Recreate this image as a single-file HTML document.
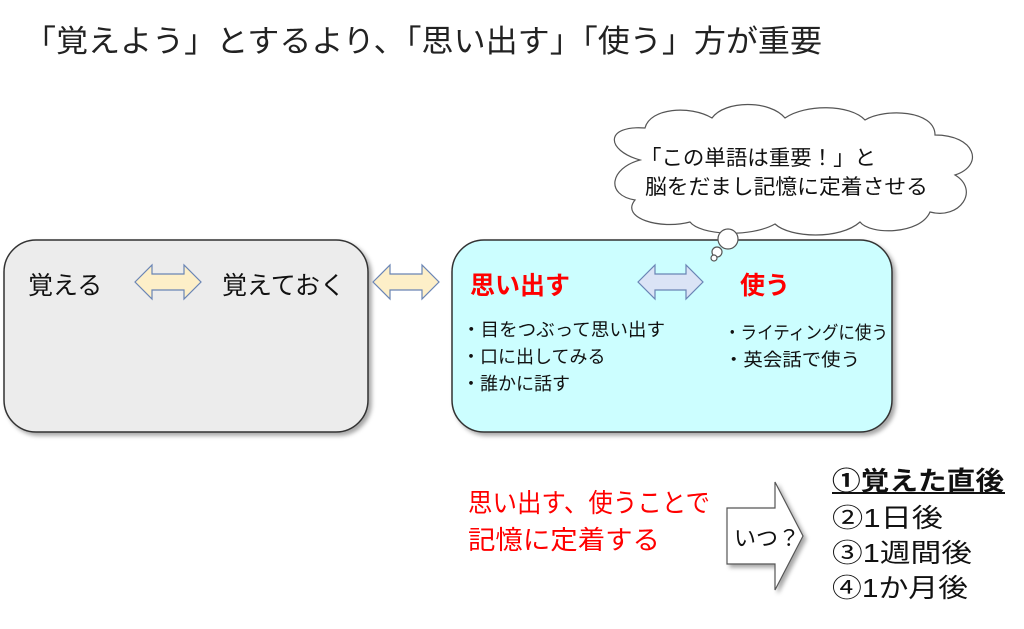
<!DOCTYPE html>
<html><head><meta charset="utf-8"><style>
body{margin:0;background:#fff;width:1024px;height:624px;overflow:hidden}
svg text{font-family:"Liberation Sans","Noto Sans CJK JP",sans-serif}
</style></head><body>
<svg width="1024" height="624" viewBox="0 0 1024 624">
<defs>
<filter id="sh" x="-10%" y="-10%" width="130%" height="130%"><feDropShadow dx="3" dy="3" stdDeviation="2" flood-color="#000" flood-opacity="0.35"/></filter>
</defs>
<text x="24" y="52" font-size="31" fill="#222" textLength="798" lengthAdjust="spacingAndGlyphs">「覚えよう」とするより、「思い出す」「使う」方が重要</text>
<rect x="4" y="240" width="364" height="192" rx="32" fill="#ececec" stroke="#333" stroke-width="1.5" filter="url(#sh)"/>
<rect x="452" y="240" width="440" height="192" rx="32" fill="#ccfeff" stroke="#333" stroke-width="1.5" filter="url(#sh)"/>
<g stroke="#6a85b5" stroke-width="1.2">
<path d="M135,282 L152,265 L152,274 L184,274 L184,265 L201,282 L184,299 L184,290 L152,290 L152,299 Z" fill="#fdefc8"/>
<path d="M373,282 L390,265 L390,274 L422,274 L422,265 L439,282 L422,299 L422,290 L390,290 L390,299 Z" fill="#fdefc8"/>
<path d="M638,282 L655,265 L655,274 L686,274 L686,265 L703,282 L686,299 L686,290 L655,290 L655,299 Z" fill="#dbe4f6"/>
</g>
<text x="28" y="294" font-size="25" fill="#111">覚える</text>
<text x="222" y="294" font-size="25" fill="#111">覚えておく</text>
<text x="470" y="294" font-size="25" font-weight="bold" fill="#f00">思い出す</text>
<text x="740" y="294" font-size="25" font-weight="bold" fill="#f00">使う</text>
<g font-size="18" fill="#111">
<text x="462" y="336" textLength="203" lengthAdjust="spacingAndGlyphs">・目をつぶって思い出す</text>
<text x="462" y="363">・口に出してみる</text>
<text x="462" y="390">・誰かに話す</text>
<text x="724" y="339" textLength="164" lengthAdjust="spacingAndGlyphs">・ライティングに使う</text>
<text x="724" y="366" textLength="136" lengthAdjust="spacingAndGlyphs">・英会話で使う</text>
</g>
<g fill="#fff" stroke="#555" stroke-width="1.2">
<path d="M640,160 C605,150 605,125 645,128 C650,108 690,105 712,118 C725,100 770,100 785,118 C805,104 850,104 865,120 C885,108 935,110 935,135 C975,135 985,165 955,175 C980,190 960,220 930,212 C920,235 870,235 860,222 C840,240 790,238 775,224 C750,238 700,235 690,222 C660,230 620,218 635,200 C605,195 610,168 640,160 Z"/>
<circle cx="728" cy="239" r="10"/>
<circle cx="717" cy="252" r="5"/>
<circle cx="714" cy="258" r="3"/>
</g>
<text x="640" y="165" font-size="21" fill="#111" textLength="236" lengthAdjust="spacingAndGlyphs">「この単語は重要！」と</text>
<text x="645" y="194" font-size="21" fill="#111" textLength="283" lengthAdjust="spacingAndGlyphs">脳をだまし記憶に定着させる</text>
<text x="468" y="512" font-size="26" fill="#f00" textLength="242" lengthAdjust="spacingAndGlyphs">思い出す、使うことで</text>
<text x="468" y="549" font-size="26" fill="#f00" textLength="192" lengthAdjust="spacingAndGlyphs">記憶に定着する</text>
<path d="M727,508 L775,508 L775,482 L803,536 L775,590 L775,564 L727,564 Z" fill="#fff" stroke="#555" stroke-width="1.2" filter="url(#sh)"/>
<text x="734" y="546" font-size="22" fill="#111">いつ？</text>
<text x="832" y="490" font-size="26" font-weight="bold" fill="#111" textLength="172" lengthAdjust="spacingAndGlyphs">①覚えた直後</text>
<line x1="832" y1="493" x2="1005" y2="493" stroke="#111" stroke-width="2"/>
<text x="832" y="527" font-size="26" fill="#111" textLength="111" lengthAdjust="spacingAndGlyphs">②1日後</text>
<text x="832" y="562" font-size="26" fill="#111" textLength="140" lengthAdjust="spacingAndGlyphs">③1週間後</text>
<text x="832" y="597" font-size="26" fill="#111" textLength="136" lengthAdjust="spacingAndGlyphs">④1か月後</text>
</svg>
</body></html>
